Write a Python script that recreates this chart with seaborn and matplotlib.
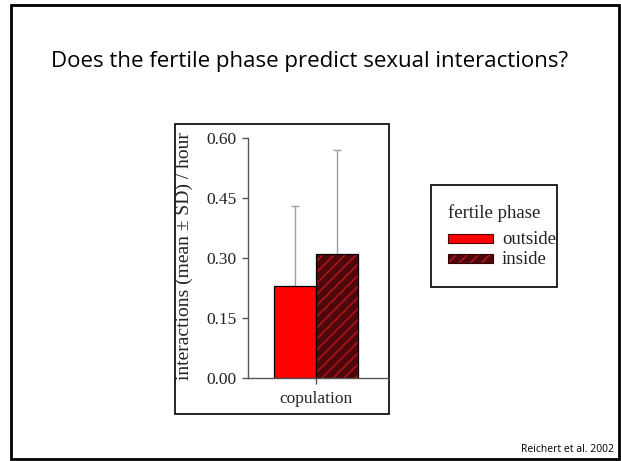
import matplotlib
matplotlib.use("Agg")
import matplotlib.pyplot as plt
import seaborn as sns
import pandas as pd
from matplotlib.patches import Rectangle
from matplotlib.colors import to_rgba

# ---- data ----
behaviors = ["copulation", "copulation"]
phases = ["outside", "inside"]
means = [0.23, 0.31]
sds = [0.20, 0.26]
yticks = [0.00, 0.15, 0.30, 0.45, 0.60]
ytick_labels = ["0.00", "0.15", "0.30", "0.45", "0.60"]
title = "Does the fertile phase predict sexual interactions?"
ylabel = "interactions (mean \u00b1 SD) / hour"
legend_title = "fertile phase"
citation = "Reichert et al. 2002"

df = pd.DataFrame({"behavior": behaviors, "phase": phases, "value": means})

sns.set_theme(style="white")
plt.rcParams["font.family"] = ["Liberation Serif", "DejaVu Serif"]
plt.rcParams["hatch.linewidth"] = 1.2

RED = "#ff0000"
MAROON = "#4e080b"
HATCH = "#a8161b"

W, H = 621, 461
fig = plt.figure(figsize=(W / 100, H / 100), dpi=100)
fig.patch.set_facecolor("white")

bg = fig.add_axes([0, 0, 1, 1])
bg.set_xlim(0, W)
bg.set_ylim(H, 0)
bg.axis("off")

# slide frame
bg.add_patch(Rectangle((11, 5), 608, 454, fill=False, ec="black", lw=2))
bg.text(310, 62, title, ha="center", va="center", fontsize=16,
        family=["Open Sans", "DejaVu Sans"], color="black")
bg.text(614, 449, citation, ha="right", va="center", fontsize=7.5,
        family=["Open Sans", "DejaVu Sans"], color="black")

# chart panel frame
bg.add_patch(Rectangle((175, 124), 214, 290, fill=False, ec="black", lw=1.2))

# main axes
ax = fig.add_axes([248 / W, 1 - 378 / H, 140 / W, 240 / H])
ax.patch.set_alpha(0)
sns.barplot(data=df, x="behavior", y="value", hue="phase", hue_order=phases,
            palette={"outside": RED, "inside": MAROON}, errorbar=None,
            width=0.8, edgecolor="black", linewidth=0.9, ax=ax, legend=False,
            saturation=1, zorder=2)

bars = [p for p in ax.patches]
for p, m, s in zip(bars, means, sds):
    cx = p.get_x() + p.get_width() / 2
    # symmetric SD bar drawn behind the bar, so only the upper half shows
    ax.errorbar([cx], [m], yerr=[s], fmt="none", ecolor="#a0a0a0",
                elinewidth=1, capsize=3, capthick=1, zorder=1)

hb = bars[1]
hb.set_hatch("///")
if hasattr(hb, "set_hatchcolor"):
    hb.set_hatchcolor(HATCH)
else:
    hb._hatch_color = to_rgba(HATCH)

ax.set_xlim(-0.648, 0.686)
ax.set_ylim(0, 0.6)
ax.set_yticks(yticks)
ax.set_yticklabels(ytick_labels)
ax.set_xlabel("")
ax.set_ylabel(ylabel, fontsize=14, color="#222222")
ax.yaxis.set_label_coords(-0.39, 0.51)
for side in ["top", "right"]:
    ax.spines[side].set_visible(False)
for side in ["left", "bottom"]:
    ax.spines[side].set_color("#555555")
    ax.spines[side].set_linewidth(1)
    ax.spines[side].set_zorder(3)
ax.tick_params(axis="both", which="both", left=True, bottom=True,
               direction="out", length=4, width=1, color="#555555",
               labelsize=12.5, labelcolor="#222222")
ax.tick_params(axis="y", pad=4)
ax.tick_params(axis="x", pad=5)

# legend (manual, in pixel space)
bg.add_patch(Rectangle((431, 185), 126, 102, fill=False, ec="black", lw=1.2))
bg.text(448, 213, legend_title, ha="left", va="center", fontsize=13.5, color="#222222")
sw1 = Rectangle((448, 234), 45, 9, fc=RED, ec="#550000", lw=0.8)
sw2 = Rectangle((448, 254), 45, 9, fc=MAROON, ec="#330000", lw=0.8, hatch="///")
bg.add_patch(sw1)
bg.add_patch(sw2)
if hasattr(sw2, "set_hatchcolor"):
    sw2.set_hatchcolor(HATCH)
else:
    sw2._hatch_color = to_rgba(HATCH)
bg.text(502, 239, phases[0], ha="left", va="center", fontsize=13.5, color="#222222")
bg.text(502, 259, phases[1], ha="left", va="center", fontsize=13.5, color="#222222")

fig.savefig("out.png", dpi=100, facecolor="white")
